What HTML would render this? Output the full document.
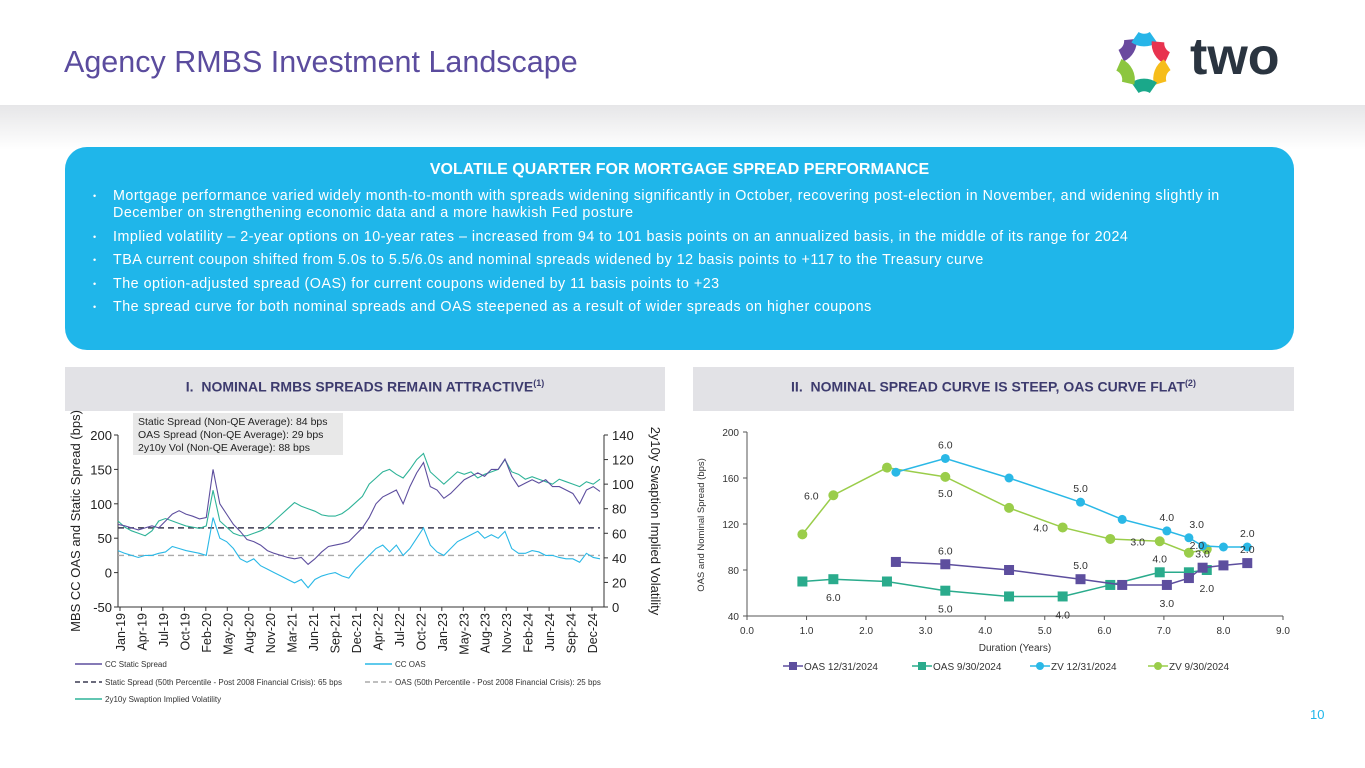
<!DOCTYPE html>
<html><head><meta charset="utf-8">
<style>
body{margin:0;width:1365px;height:768px;background:#fff;font-family:"Liberation Sans",sans-serif;position:relative;overflow:hidden}
.abs{position:absolute}
#title{left:64px;top:45px;font-size:30.5px;color:#5b4c9e}
#band{left:0;top:105px;width:1365px;height:45px;background:linear-gradient(#e6e6e8,#fff)}
#box{left:65px;top:147px;width:1229px;height:203px;background:#1fb6ea;border-radius:22px;color:#fff}
#box h2{margin:0;position:absolute;top:14px;width:100%;text-align:center;font-size:16px;font-weight:bold}
#box ul{position:absolute;top:41px;left:0;margin:0;padding:0 70px 0 48px;list-style:none;font-size:14.3px;letter-spacing:0.5px;line-height:17px}
#box li{position:relative;margin-bottom:6.5px}
#box li:before{content:"•";position:absolute;left:-20px;font-size:9px}
.sec{top:367px;height:44px;background:#e2e2e6;color:#3d3b6e;font-weight:bold;font-size:14px;line-height:32px;text-align:center}
.sec sup{font-size:9px}
#pg{left:1310px;top:707px;color:#1fb6ea;font-size:13px}
</style></head><body>
<div id="band" class="abs"></div>
<div id="title" class="abs">Agency RMBS Investment Landscape</div>
<svg class="abs" style="left:1110px;top:24px" width="200" height="70">
<g stroke-width="11" fill="none" transform="translate(2,4) scale(1.15)">
<path d="M16 10 A14 14 0 0 1 8 24" stroke="#6a4a9e"/>
<path d="M20 8 A14 14 0 0 0 36 8" stroke="#27b5e8"/>
<path d="M40 12 A14 14 0 0 0 48 26" stroke="#e8334f"/>
<path d="M48 32 A14 14 0 0 0 42 48" stroke="#f6bd1b"/>
<path d="M36 52 A14 14 0 0 0 20 52" stroke="#1aa88a"/>
<path d="M14 48 A14 14 0 0 0 6 32" stroke="#8cc63f"/>
</g>
<text x="80" y="50" font-size="52" font-weight="bold" fill="#2a3440" font-family="Liberation Sans,sans-serif">two</text>
</svg>
<div id="box" class="abs">
<h2>VOLATILE QUARTER FOR MORTGAGE SPREAD PERFORMANCE</h2>
<ul>
<li>Mortgage performance varied widely month-to-month with spreads widening significantly in October, recovering post-election in November, and widening slightly in December on strengthening economic data and a more hawkish Fed posture</li>
<li>Implied volatility – 2-year options on 10-year rates – increased from 94 to 101 basis points on an annualized basis, in the middle of its range for 2024</li>
<li>TBA current coupon shifted from 5.0s to 5.5/6.0s and nominal spreads widened by 12 basis points to +117 to the Treasury curve</li>
<li>The option-adjusted spread (OAS) for current coupons widened by 11 basis points to +23</li>
<li>The spread curve for both nominal spreads and OAS steepened as a result of wider spreads on higher coupons</li>
</ul></div>
<div class="abs sec" style="left:65px;width:600px">I.&nbsp; NOMINAL RMBS SPREADS REMAIN ATTRACTIVE<sup>(1)</sup></div>
<div class="abs sec" style="left:693px;width:601px">II.&nbsp; NOMINAL SPREAD CURVE IS STEEP, OAS CURVE FLAT<sup>(2)</sup></div>
<div id="pg" class="abs">10</div>

<svg id="c1" class="abs" style="left:0;top:0" width="1365" height="768"></svg>

<script>
const xLabels=["Jan-19","Apr-19","Jul-19","Oct-19","Feb-20","May-20","Aug-20","Nov-20","Mar-21","Jun-21","Sep-21","Dec-21","Apr-22","Jul-22","Oct-22","Jan-23","May-23","Aug-23","Nov-23","Feb-24","Jun-24","Sep-24","Dec-24"];
const leftTicks=[-50,0,50,100,150,200];
const rightTicks=[0,20,40,60,80,100,120,140];
const staticSpread=[70,68,65,62,65,68,65,75,85,90,85,82,78,80,150,100,85,70,60,48,45,40,32,28,25,22,20,22,12,20,30,38,40,42,45,55,65,80,100,110,115,120,100,125,145,160,125,120,108,115,125,135,140,145,140,150,150,165,140,125,130,135,130,135,125,125,120,115,100,120,125,118];
const ccOAS=[32,28,25,22,25,25,28,30,38,35,32,30,28,25,80,50,45,35,20,15,20,10,5,0,-5,-10,-15,-10,-22,-10,-5,-2,0,-5,-8,5,15,25,35,40,30,40,25,35,50,65,40,30,25,35,45,50,55,60,50,55,50,60,35,28,28,32,30,25,25,22,20,20,15,28,22,20];
const swaptionVol=[70,65,62,60,58,62,70,72,70,68,66,65,64,66,95,70,65,60,58,58,60,62,65,70,75,80,85,82,80,78,75,74,74,76,80,85,90,100,105,110,112,108,105,112,120,125,110,105,100,105,110,108,110,105,108,110,112,120,110,108,104,106,104,102,100,104,102,100,98,102,100,104];
const staticMedian=65, oasMedian=25;

const NS="http://www.w3.org/2000/svg";
const svg=document.getElementById('c1');
function el(t,a,txt){const e=document.createElementNS(NS,t);for(const k in a)e.setAttribute(k,a[k]);if(txt!==undefined)e.textContent=txt;svg.appendChild(e);return e;}
const X0=118,X1=600,Y0=607,Y1=435;
const yL=v=>Y0-(v+50)/250*(Y0-Y1);
const yR=v=>Y0-v/140*(Y0-Y1);
const xM=i=>X0+i/(staticSpread.length-1)*(X1-X0);
let a=el('line',{x1:X0,y1:Y1,x2:X0,y2:Y0,stroke:'#333'});

a=el('line',{x1:X0,y1:Y0,x2:604,y2:Y0,stroke:'#333'});

a=el('line',{x1:604,y1:Y1,x2:604,y2:Y0,stroke:'#333'});

leftTicks.forEach(v=>{const t=el('text',{x:112,y:yL(v)+5,'text-anchor':'end','font-size':13,fill:'#222'},v);

el('line',{x1:114,x2:X0,y1:yL(v),y2:yL(v),stroke:'#333'});});
rightTicks.forEach(v=>{const t=el('text',{x:612,y:yR(v)+5,'font-size':13,fill:'#222'},v);

el('line',{x1:604,x2:608,y1:yR(v),y2:yR(v),stroke:'#333'});});
xLabels.forEach((s,i)=>{const x=125+i*(597-125)/(xLabels.length-1);
el('line',{x1:x-5,x2:x-5,y1:Y0,y2:Y0+4,stroke:'#333'});
const t=el('text',{x:x,y:Y0+6,'font-size':12.5,fill:'#222','text-anchor':'end',transform:`rotate(-90 ${x} ${Y0+6})`},s);
});
let t=el('text',{x:80,y:521,'font-size':13,fill:'#222','text-anchor':'middle',transform:'rotate(-90 80 521)'},'MBS CC OAS and Static Spread (bps)');

t=el('text',{x:651,y:521,'font-size':13,fill:'#222','text-anchor':'middle',transform:'rotate(90 651 521)'},'2y10y Swaption Implied Volatility');

let m=el('line',{x1:X0,x2:X1,y1:yL(staticMedian),y2:yL(staticMedian),stroke:'#3a3a50','stroke-width':1.6,'stroke-dasharray':'6,4'});

m=el('line',{x1:X0,x2:X1,y1:yL(oasMedian),y2:yL(oasMedian),stroke:'#aaa','stroke-width':1.4,'stroke-dasharray':'6,4'});

function poly(arr,fy,col,name){const p=el('polyline',{points:arr.map((v,i)=>xM(i)+','+fy(v)).join(' '),fill:'none',stroke:col,'stroke-width':1.1});
}
poly(swaptionVol,yR,'#2fb398','swaption-vol-line');
poly(staticSpread,yL,'#5d4e9e','static-spread-line');
poly(ccOAS,yL,'#2ab8e6','cc-oas-line');
let bx=el('rect',{x:133,y:413,width:210,height:42,fill:'#e8e8e8'});

["Static Spread (Non-QE Average): 84 bps","OAS Spread (Non-QE Average): 29 bps","2y10y Vol (Non-QE Average): 88 bps"].forEach((s,i)=>{
const q=el('text',{x:138,y:425+i*13,'font-size':10.5,fill:'#222'},s);});
const leg=[[75,664,'#5d4e9e','','CC Static Spread'],[365,664,'#2ab8e6','','CC OAS'],[75,682,'#3a3a50','5,3','Static Spread (50th Percentile - Post 2008 Financial Crisis): 65 bps'],[365,682,'#aaa','5,3','OAS (50th Percentile - Post 2008 Financial Crisis): 25 bps'],[75,699,'#2fb398','','2y10y Swaption Implied Volatility']];
leg.forEach(l=>{el('line',{x1:l[0],x2:l[0]+27,y1:l[1],y2:l[1],stroke:l[2],'stroke-width':1.5,'stroke-dasharray':l[3]});
const q=el('text',{x:l[0]+30,y:l[1]+3,'font-size':8,fill:'#333'},l[4]);});
</script>

<script>
const durTicks=[0,1,2,3,4,5,6,7,8,9];
const spreadTicks=[40,80,120,160,200];
const oas1231Dur=[2.5,3.33,4.4,5.6,6.3,7.05,7.42,7.65,8.0,8.4];
const oas1231=[87,85,80,72,67,67,73,82,84,86];
const oas0930Dur=[0.93,1.45,2.35,3.33,4.4,5.3,6.1,6.93,7.42,7.72];
const oas0930=[70,72,70,62,57,57,67,78,78,80];
const zv1231Dur=[2.5,3.33,4.4,5.6,6.3,7.05,7.42,7.65,8.0,8.4];
const zv1231=[165,177,160,139,124,114,108,101,100,100];
const zv0930Dur=[0.93,1.45,2.35,3.33,4.4,5.3,6.1,6.93,7.42,7.72];
const zv0930=[111,145,169,161,134,117,107,105,95,98];
const couponLabels=[["6.0",3.33,85,0,-14],["5.0",5.6,72,0,-14],["3.0",7.05,67,0,18],["2.0",8.4,86,0,-14],
["6.0",1.45,72,0,18],["5.0",3.33,62,0,18],["4.0",5.3,57,0,18],["4.0",6.93,78,0,-14],["3.0",7.65,82,0,-14],["2.0",7.72,80,0,18],
["6.0",3.33,177,0,-14],["5.0",5.6,139,0,-14],["4.0",7.05,114,0,-14],["3.0",7.55,108,0,-14],["2.0",8.4,100,0,-14],
["6.0",1.45,145,-22,0],["5.0",3.33,161,0,16],["4.0",5.3,117,-22,0],["3.0",6.93,105,-22,0],["2.0",7.42,95,8,-8]];
(function(){
const NS="http://www.w3.org/2000/svg";const svg=document.getElementById('c1');
function el(t,a,txt){const e=document.createElementNS(NS,t);for(const k in a)e.setAttribute(k,a[k]);if(txt!==undefined)e.textContent=txt;svg.appendChild(e);return e;}
const xs=v=>747+v/9*(1283-747);const ys=v=>616-(v-40)/160*(616-432);
let a=el('line',{x1:747,y1:432,x2:747,y2:616,stroke:'#555'});
a=el('line',{x1:747,y1:616,x2:1283,y2:616,stroke:'#555'});
spreadTicks.forEach(v=>{el('line',{x1:743,x2:747,y1:ys(v),y2:ys(v),stroke:'#555'});
const t=el('text',{x:739,y:ys(v)+4,'text-anchor':'end','font-size':10,fill:'#333'},v);});
durTicks.forEach(v=>{el('line',{x1:xs(v),x2:xs(v),y1:616,y2:620,stroke:'#555'});
const t=el('text',{x:xs(v),y:634,'text-anchor':'middle','font-size':10,fill:'#333'},v.toFixed(1));});
let t=el('text',{x:1015,y:651,'text-anchor':'middle','font-size':10,fill:'#333'},'Duration (Years)');
t=el('text',{x:704,y:525,'text-anchor':'middle','font-size':9.5,fill:'#333',transform:'rotate(-90 704 525)'},'OAS and Nominal Spread (bps)');
function series(dx,dy,col,sq,name){
const p=el('polyline',{points:dx.map((d,i)=>xs(d)+','+ys(dy[i])).join(' '),fill:'none',stroke:col,'stroke-width':1.5});

dx.forEach((d,i)=>{let m;if(sq)m=el('rect',{x:xs(d)-5,y:ys(dy[i])-5,width:10,height:10,fill:col});else m=el('circle',{cx:xs(d),cy:ys(dy[i]),r:sq===0?5:4.5,fill:col});
});}
series(oas0930Dur,oas0930,'#2aab8c',true,'oas-0930');
series(oas1231Dur,oas1231,'#5d4e9e',true,'oas-1231');
series(zv0930Dur,zv0930,'#9acd4a',0,'zv-0930');
series(zv1231Dur,zv1231,'#2ab8e6',false,'zv-1231');
couponLabels.forEach(l=>{const q=el('text',{x:xs(l[1])+l[3],y:ys(l[2])+l[4]+4,'text-anchor':'middle','font-size':10.5,fill:'#333'},l[0]);
});
[[783,'#5d4e9e','r','OAS 12/31/2024'],[912,'#2aab8c','r','OAS 9/30/2024'],[1030,'#2ab8e6','c','ZV 12/31/2024'],[1148,'#9acd4a','c','ZV 9/30/2024']].forEach(l=>{
el('line',{x1:l[0],x2:l[0]+20,y1:666,y2:666,stroke:l[1],'stroke-width':1.5});
if(l[2]=='r')el('rect',{x:l[0]+6,y:662,width:8,height:8,fill:l[1]});else el('circle',{cx:l[0]+10,cy:666,r:4,fill:l[1]});
const q=el('text',{x:l[0]+21,y:670,'font-size':10,fill:'#333'},l[3]);});
})();
</script>
</body></html>
